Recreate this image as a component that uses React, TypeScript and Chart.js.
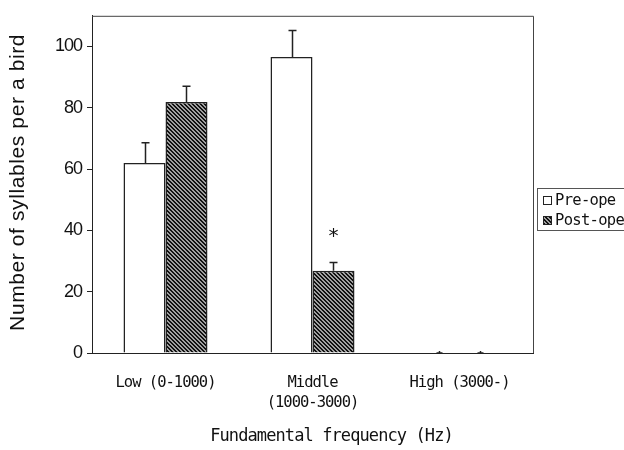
import React, { useEffect, useRef } from 'react';
import { Chart, registerables } from 'chart.js';

Chart.register(...registerables);

// ---- data ----
const categories: string[][] = [['Low (0-1000)'], ['Middle', '(1000-3000)'], ['High (3000-)']];
const seriesLabels = ['Pre-ope', 'Post-ope'];
const preOpe = [62.0, 96.6, 0];
const preOpeErr = [6.6, 8.6, 0];
const postOpe = [81.9, 26.8, 0];
const postOpeErr = [5.1, 2.7, 0];
const postSignificance = ['', '*', ''];
const yTickValues = [0, 20, 40, 60, 80, 100];
const yMin = 0;
const yMax = 110;
const xTitle = 'Fundamental frequency (Hz)';
const yTitle = 'Number of syllables per a bird';

const MONO = "'DejaVu Sans Mono', monospace";
const SANS = "'Liberation Sans', Arial, sans-serif";

function makeHatch(): CanvasPattern | string {
  const c = document.createElement('canvas');
  c.width = 4;
  c.height = 4;
  const g = c.getContext('2d');
  if (!g) return '#555';
  g.fillStyle = '#a0a0a0';
  g.fillRect(0, 0, 4, 4);
  g.fillStyle = '#111';
  for (let i = 0; i < 4; i++) {
    g.fillRect(i, i, 1, 1);
    g.fillRect((i + 1) % 4, i, 1, 1);
  }
  return g.createPattern(c, 'repeat') || '#555';
}

export default function App() {
  const ref = useRef<HTMLCanvasElement | null>(null);

  useEffect(() => {
    document.body.style.margin = '0';
    const canvas = ref.current;
    if (!canvas) return;
    const hatch = makeHatch();
    const errs = [preOpeErr, postOpeErr];

    const extras = {
      id: 'extras',
      beforeDraw(chart: any) {
        (chart.ctx as any).letterSpacing = '-1px';
      },
      afterDatasetsDraw(chart: any) {
        const ctx: CanvasRenderingContext2D = chart.ctx;
        const y = chart.scales.y;
        const area = chart.chartArea;
        ctx.save();
        // frame top & right
        ctx.strokeStyle = '#444';
        ctx.lineWidth = 1;
        ctx.beginPath();
        ctx.moveTo(area.left, area.top + 0.5);
        ctx.lineTo(area.right + 0.5, area.top + 0.5);
        ctx.lineTo(area.right + 0.5, area.bottom);
        ctx.stroke();
        // error bars
        ctx.strokeStyle = '#222';
        ctx.lineWidth = 1.5;
        chart.data.datasets.forEach((ds: any, di: number) => {
          const meta = chart.getDatasetMeta(di);
          meta.data.forEach((bar: any, i: number) => {
            const v = ds.data[i];
            const e = errs[di][i];
            const x = Math.round(bar.x) + 0.5;
            const y0 = y.getPixelForValue(v);
            const y1 = y.getPixelForValue(v + e);
            ctx.beginPath();
            if (e > 0) {
              ctx.moveTo(x, y0);
              ctx.lineTo(x, y1);
              ctx.moveTo(x - 4, y1);
              ctx.lineTo(x + 4, y1);
            } else {
              ctx.moveTo(x, y0 - 2);
              ctx.lineTo(x, y0 + 1);
              ctx.moveTo(x - 3, y0);
              ctx.lineTo(x + 3, y0);
            }
            ctx.stroke();
            if (di === 1 && postSignificance[i]) {
              ctx.fillStyle = '#111';
              (ctx as any).letterSpacing = '0px';
              ctx.font = `20px ${MONO}`;
              ctx.textAlign = 'center';
              ctx.textBaseline = 'middle';
              ctx.fillText(postSignificance[i], x, y1 - 26);
            }
          });
        });
        ctx.restore();
      },
      afterDraw(chart: any) {
        const ctx: CanvasRenderingContext2D = chart.ctx;
        const area = chart.chartArea;
        ctx.save();
        // x title
        ctx.fillStyle = '#111';
        ctx.font = `17px ${MONO}`;
        (ctx as any).letterSpacing = '-0.9px';
        ctx.textAlign = 'center';
        ctx.textBaseline = 'middle';
        ctx.fillText(xTitle, (area.left + area.right) / 2 + 19, 437);
        // y title
        ctx.save();
        ctx.translate(18, (area.top + area.bottom) / 2 - 2);
        ctx.rotate(-Math.PI / 2);
        ctx.font = `21px ${SANS}`;
        (ctx as any).letterSpacing = '0.6px';
        ctx.textAlign = 'center';
        ctx.textBaseline = 'middle';
        ctx.fillText(yTitle, 0, 0);
        ctx.restore();
        // legend
        const lx = area.right + 4;
        const ly = 188;
        ctx.strokeStyle = '#555';
        ctx.lineWidth = 1;
        ctx.strokeRect(lx + 0.5, ly + 0.5, 120, 42);
        ctx.font = `15.5px ${MONO}`;
        (ctx as any).letterSpacing = '-0.7px';
        ctx.textAlign = 'left';
        ctx.textBaseline = 'middle';
        chart.data.datasets.forEach((ds: any, di: number) => {
          const cy = ly + 12 + di * 20;
          ctx.fillStyle = ds.backgroundColor;
          ctx.fillRect(lx + 6, cy - 4, 9, 9);
          ctx.strokeStyle = '#222';
          ctx.strokeRect(lx + 6.5, cy - 3.5, 8, 8);
          ctx.fillStyle = '#111';
          ctx.fillText(ds.label, lx + 18, cy + 1);
        });
        ctx.restore();
      },
    };

    const chart = new Chart(canvas, {
      type: 'bar',
      data: {
        labels: categories as any,
        datasets: [
          {
            label: seriesLabels[0],
            data: preOpe,
            backgroundColor: '#ffffff',
            borderColor: '#222',
            borderWidth: 1.5,
            categoryPercentage: 0.5714,
            barPercentage: 1,
          },
          {
            label: seriesLabels[1],
            data: postOpe,
            backgroundColor: hatch as any,
            borderColor: '#222',
            borderWidth: 1.5,
            categoryPercentage: 0.5714,
            barPercentage: 1,
          },
        ],
      },
      options: {
        responsive: false,
        animation: false,
        devicePixelRatio: 1,
        layout: { padding: { top: 8, right: 91, left: 0, bottom: 0 } },
        plugins: {
          legend: { display: false },
          tooltip: { enabled: false },
          title: { display: false },
        },
        scales: {
          x: {
            grid: { display: true, drawOnChartArea: false, drawTicks: false },
            border: { display: true, color: '#222', width: 1 },
            ticks: {
              color: '#111',
              padding: 20,
              maxRotation: 0,
              autoSkip: false,
              font: { family: MONO, size: 15.5, lineHeight: 1.29 },
            },
            afterFit(scale: any) {
              scale.height = 97;
            },
          },
          y: {
            min: yMin,
            max: yMax,
            grid: { display: true, drawOnChartArea: false, drawTicks: true, tickLength: 5, color: '#222' },
            border: { display: true, color: '#222', width: 1 },
            ticks: {
              color: '#111',
              padding: 5,
              font: { family: SANS, size: 18 },
            },
            afterBuildTicks(scale: any) {
              scale.ticks = yTickValues.map((v) => ({ value: v }));
            },
            afterFit(scale: any) {
              scale.width = 92;
            },
          },
        },
      },
      plugins: [extras],
    });
    return () => chart.destroy();
  }, []);

  return (
    <div style={{ width: 624, height: 450, background: '#fff' }}>
      <canvas ref={ref} width={624} height={450} style={{ display: 'block' }} />
    </div>
  );
}
